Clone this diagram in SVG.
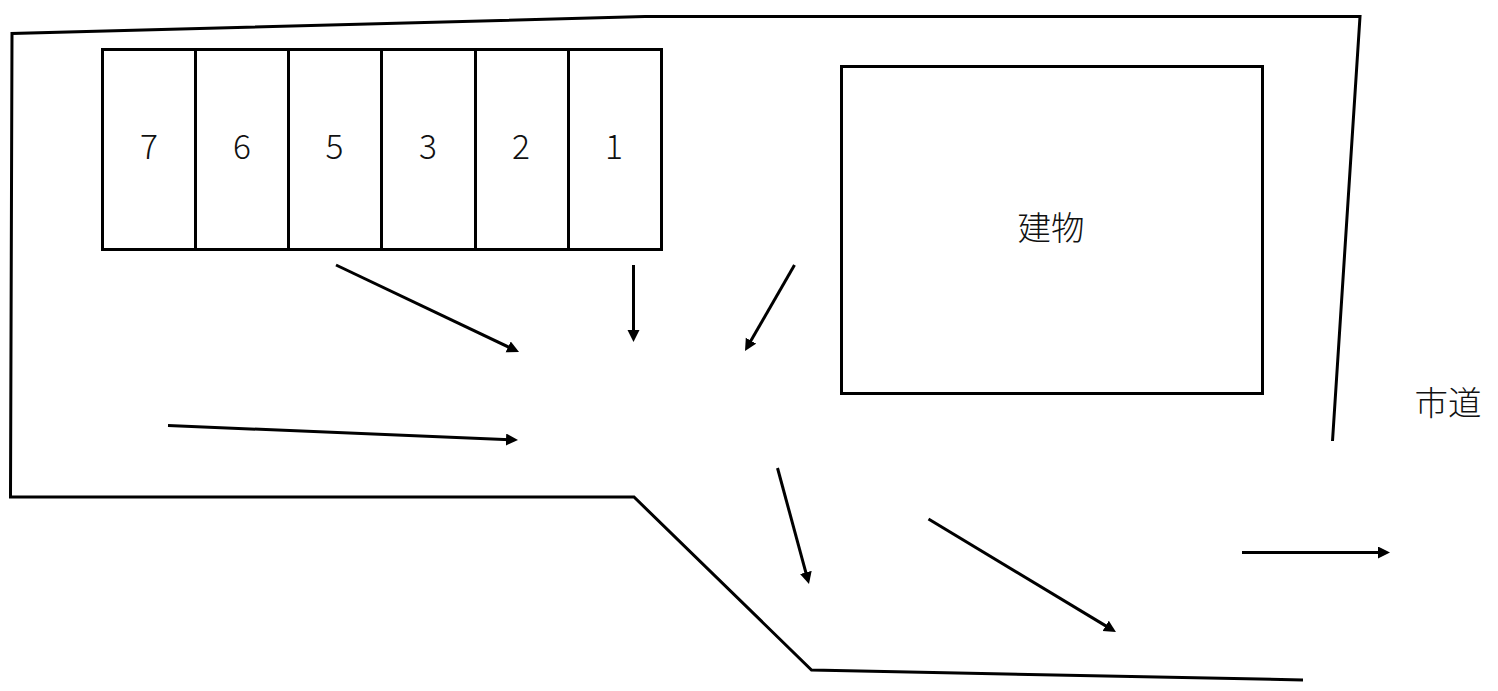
<svg xmlns="http://www.w3.org/2000/svg" width="1498" height="691" viewBox="0 0 1498 691">
<style>
.l{fill:none;stroke:#000;stroke-width:3}
.c{fill:#fff;stroke:#000;stroke-width:3}
.a{fill:none;stroke:#000;stroke-width:3;marker-end:url(#m)}
text{font-family:"Noto Sans CJK JP","Noto Sans",sans-serif;font-size:33.5px;fill:#111;text-anchor:middle;font-weight:300}
</style>
<defs><marker id="m" markerUnits="userSpaceOnUse" markerWidth="14" markerHeight="14" refX="4" refY="6" orient="auto"><path d="M0 0L12 6L0 12z" fill="#000"/></marker></defs>
<rect width="1498" height="691" fill="#fff"/>
<g id="boundary">
<path class="l" d="M1332.500 441L1360 16.500H645L12 33.500L10.500 497H634L811.500 670L1303 680"/>
</g>
<g id="slot7"><rect class="c" x="102.500" y="49.500" width="93" height="200"/><text x="149" y="159">7</text></g>
<g id="slot6"><rect class="c" x="195.500" y="49.500" width="93" height="200"/><text x="242" y="159">6</text></g>
<g id="slot5"><rect class="c" x="288.500" y="49.500" width="93" height="200"/><text x="334.500" y="159">5</text></g>
<g id="slot3"><rect class="c" x="381.500" y="49.500" width="94" height="200"/><text x="428" y="159">3</text></g>
<g id="slot2"><rect class="c" x="475.500" y="49.500" width="93" height="200"/><text x="521" y="159">2</text></g>
<g id="slot1"><rect class="c" x="568.500" y="49.500" width="93" height="200"/><text x="614" y="159">1</text></g>
<g id="building"><rect class="c" x="841.500" y="66.500" width="421" height="327"/><text x="1051" y="240">建物</text></g>
<g id="road"><text x="1448" y="414.500">市道</text></g>
<g id="connectors">
<path class="a" d="M336 265L511.800 348.600"/>
<path class="a" d="M633.500 265V334"/>
<path class="a" d="M794.500 265L749 344.100"/>
<path class="a" d="M168 425.500L510 439.700"/>
<path class="a" d="M777.500 468L806.900 576.300"/>
<path class="a" d="M928.500 519L1109.100 627.900"/>
<path class="a" d="M1242 552.500H1382"/>
</g>
</svg>
